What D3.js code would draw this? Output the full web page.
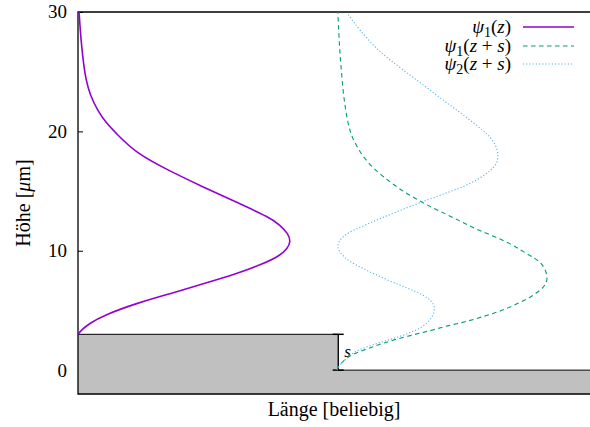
<!DOCTYPE html>
<html>
<head>
<meta charset="utf-8">
<script src="https://cdn.jsdelivr.net/npm/d3@7"></script>
<style>
  html, body { margin: 0; padding: 0; background: #fff; }
  svg { display: block; }
</style>
</head>
<body>
<svg id="chart" width="590" height="427"></svg>
<script>
// Height axis ticks (µm)
const yTicks = [0, 10, 20, 30];

// Mirror geometry: step edge position (arbitrary length units) and the two floor heights (µm)
const stepEdge = 1.215;
const floorHeights = [3, 0];

// Baselines of the wave functions on the length axis
const baseUpper = 0;          // ψ1(z) above the raised mirror
const baseLower = stepEdge;   // shifted states above the lower mirror

// ψ1(z): [height z, amplitude]
const psi1 = [
  [3.0, 0], [3.38, 0.017], [3.93, 0.056], [4.58, 0.119], [5.61, 0.275],
  [6.4, 0.431], [7.23, 0.587], [8.07, 0.744], [8.91, 0.869], [9.6, 0.947],
  [10.2, 0.982], [10.75, 0.997], [11.42, 0.986], [12.15, 0.947], [12.77, 0.9],
  [14.07, 0.744], [15.33, 0.587], [16.67, 0.431], [18.13, 0.275], [19.85, 0.178],
  [20.67, 0.134], [21.64, 0.095], [23.04, 0.056], [24.44, 0.036], [25.55, 0.027],
  [26.95, 0.018], [28.6, 0.01], [30.0, 0.005]
];

// ψ1(z + s): [height z, amplitude]
const psi1s = [
  [0.0, 0], [0.34, 0.005], [1.18, 0.052], [1.52, 0.099], [2.02, 0.177], [2.49, 0.255],
  [3.0, 0.365], [3.33, 0.443], [3.75, 0.521], [4.03, 0.599], [4.45, 0.677],
  [4.87, 0.755], [5.45, 0.833], [6.15, 0.912], [6.98, 0.974], [7.74, 0.99],
  [8.86, 0.966], [9.36, 0.927], [10.0, 0.865], [10.62, 0.81], [11.23, 0.732],
  [11.79, 0.654], [12.43, 0.583], [13.05, 0.513], [13.69, 0.435], [14.39, 0.365],
  [15.14, 0.294], [15.98, 0.232], [16.9, 0.169], [18.01, 0.115], [19.27, 0.076],
  [20.0, 0.06], [21.0, 0.047], [22.2, 0.036], [23.5, 0.027], [25.0, 0.02],
  [26.5, 0.013], [28.0, 0.008], [30.0, 0.003]
];

// ψ2(z + s): [height z, amplitude]
const psi2s = [
  [0.0, 0], [0.34, 0.005], [1.46, 0.068], [2.02, 0.146], [2.44, 0.224], [2.86, 0.302],
  [3.41, 0.38], [3.97, 0.427], [4.81, 0.458], [5.51, 0.455], [6.06, 0.427],
  [6.62, 0.365], [7.18, 0.286], [7.88, 0.193], [8.58, 0.115], [9.14, 0.052],
  [9.83, 0.013], [10.3, 0.001], [10.62, 0.005], [11.04, 0.017], [11.4, 0.045],
  [11.73, 0.076], [12.01, 0.115], [12.35, 0.154], [12.63, 0.193], [12.91, 0.232],
  [13.27, 0.279], [13.6, 0.326], [13.91, 0.373], [14.25, 0.42], [14.52, 0.466],
  [14.86, 0.513], [15.14, 0.56], [15.5, 0.607], [15.92, 0.654], [16.48, 0.701],
  [16.9, 0.732], [17.45, 0.752], [18.16, 0.755], [18.99, 0.74], [19.69, 0.708],
  [20.02, 0.687], [20.95, 0.623], [21.78, 0.56], [22.62, 0.497], [23.46, 0.435],
  [24.3, 0.373], [25.13, 0.31], [25.97, 0.248], [26.67, 0.2], [27.5, 0.154],
  [28.48, 0.107], [29.18, 0.075], [29.88, 0.049]
];

const FONT = "'Liberation Serif', 'Times New Roman', serif";

const svg = d3.select("#chart").attr("font-family", FONT);
const margin = { left: 78, right: 0, top: 12, bottom: 33 };
const W = 590, H = 427;

const x = d3.scaleLinear().domain([0, 2.4]).range([margin.left, W - margin.right]);
const y = d3.scaleLinear().domain([-2, 30]).range([H - margin.bottom, margin.top]);
const [x0, x1] = x.domain();
const [y0, y1] = y.domain();

const addText = sel => sel.append("text").attr("font-family", FONT).attr("fill", "#000");

// y ticks (drawn first so the mirror covers the lowest one)
svg.append("g")
  .attr("transform", `translate(${margin.left},0)`)
  .call(d3.axisRight(y).tickValues(yTicks).tickSize(5).tickFormat(""))
  .call(g => g.select(".domain").remove())
  .call(g => g.selectAll("line").attr("stroke", "#000").attr("stroke-width", 1));

// tick labels
const tickG = svg.append("g");
yTicks.forEach(v => {
  addText(tickG)
    .attr("x", 67)
    .attr("y", y(v))
    .attr("dy", "0.34em")
    .attr("text-anchor", "end")
    .attr("font-size", 19)
    .text(v);
});

// mirror (grey) with the step of height s
const [zHigh, zLow] = floorHeights;
const pathOf = d3.line().x(d => x(d[0])).y(d => y(d[1]));
const mirror = [
  [x0, y0], [x0, zHigh], [stepEdge, zHigh], [stepEdge, zLow], [x1, zLow], [x1, y0]
];
svg.append("path")
  .attr("d", pathOf(mirror) + "Z")
  .attr("fill", "#c0c0c0")
  .attr("stroke", "none");
svg.append("path")
  .attr("d", pathOf([[x0, zHigh], [stepEdge, zHigh]]))
  .attr("stroke", "#000").attr("stroke-width", 1).attr("fill", "none");
svg.append("path")
  .attr("d", pathOf([[stepEdge, zLow], [x1, zLow]]))
  .attr("stroke", "#000").attr("stroke-width", 1).attr("fill", "none");

// frame: top, left, bottom
svg.append("path")
  .attr("d", pathOf([[x1, y1], [x0, y1], [x0, y0], [x1, y0]]))
  .attr("fill", "none").attr("stroke", "#000").attr("stroke-width", 1.3);

// step height marker s
const capHalf = 5.5;
const sx = x(stepEdge) + 1;
const sMark = svg.append("g").attr("stroke", "#000").attr("stroke-width", 1.5);
sMark.append("line").attr("x1", sx).attr("x2", sx).attr("y1", y(zHigh)).attr("y2", y(zLow));
sMark.append("line").attr("x1", sx - capHalf).attr("x2", sx + capHalf).attr("y1", y(zHigh)).attr("y2", y(zHigh));
sMark.append("line").attr("x1", sx - capHalf).attr("x2", sx + capHalf).attr("y1", y(zLow)).attr("y2", y(zLow));
addText(svg)
  .attr("x", sx + 6).attr("y", y((zHigh + zLow) / 2) + 5)
  .attr("font-size", 17).attr("font-style", "italic")
  .text("s");

// wave functions
const curve = base => d3.line()
  .x(d => x(base + d[1]))
  .y(d => y(d[0]))
  .curve(d3.curveBasis);

const series = [
  { data: psi1, base: baseUpper, color: "#9400d3", width: 1.6, dash: null,
    label: [["ψ", "i"], ["1", "sub"], ["(", "n"], ["z", "i"], [")", "n"]] },
  { data: psi1s, base: baseLower, color: "#009e73", width: 1.1, dash: "4.5,3.5",
    label: [["ψ", "i"], ["1", "sub"], ["(", "n"], ["z", "i"], [" + ", "n"], ["s", "i"], [")", "n"]] },
  { data: psi2s, base: baseLower, color: "#56b4e9", width: 1.1, dash: "1.2,2",
    label: [["ψ", "i"], ["2", "sub"], ["(", "n"], ["z", "i"], [" + ", "n"], ["s", "i"], [")", "n"]] }
];

series.forEach(s => {
  svg.append("path")
    .attr("d", curve(s.base)(s.data))
    .attr("fill", "none")
    .attr("stroke", s.color)
    .attr("stroke-width", s.width)
    .attr("stroke-dasharray", s.dash);
});

// legend
const legendRows = [27, 46, 64];
series.forEach((s, i) => {
  const ly = legendRows[i];
  svg.append("line")
    .attr("x1", 523).attr("x2", 574).attr("y1", ly).attr("y2", ly)
    .attr("stroke", s.color).attr("stroke-width", s.width)
    .attr("stroke-dasharray", s.dash);
  const t = addText(svg)
    .attr("x", 511).attr("y", ly + 6)
    .attr("text-anchor", "end")
    .attr("font-size", 19);
  let shifted = false;
  s.label.forEach(([str, kind]) => {
    const sp = t.append("tspan").text(str);
    if (kind === "i") sp.attr("font-style", "italic");
    if (kind === "sub") { sp.attr("font-size", 14).attr("dy", 4); shifted = true; }
    else if (shifted) { sp.attr("dy", -4); shifted = false; }
  });
});

// axis titles
addText(svg)
  .attr("x", (x(x0) + x(x1)) / 2)
  .attr("y", 416)
  .attr("text-anchor", "middle")
  .attr("font-size", 20)
  .text("Länge [beliebig]");

const yl = addText(svg)
  .attr("transform", `translate(30,${y(14)}) rotate(-90)`)
  .attr("text-anchor", "middle")
  .attr("font-size", 20);
yl.append("tspan").text("Höhe [");
yl.append("tspan").attr("font-style", "italic").text("μ");
yl.append("tspan").text("m]");
</script>
</body>
</html>
